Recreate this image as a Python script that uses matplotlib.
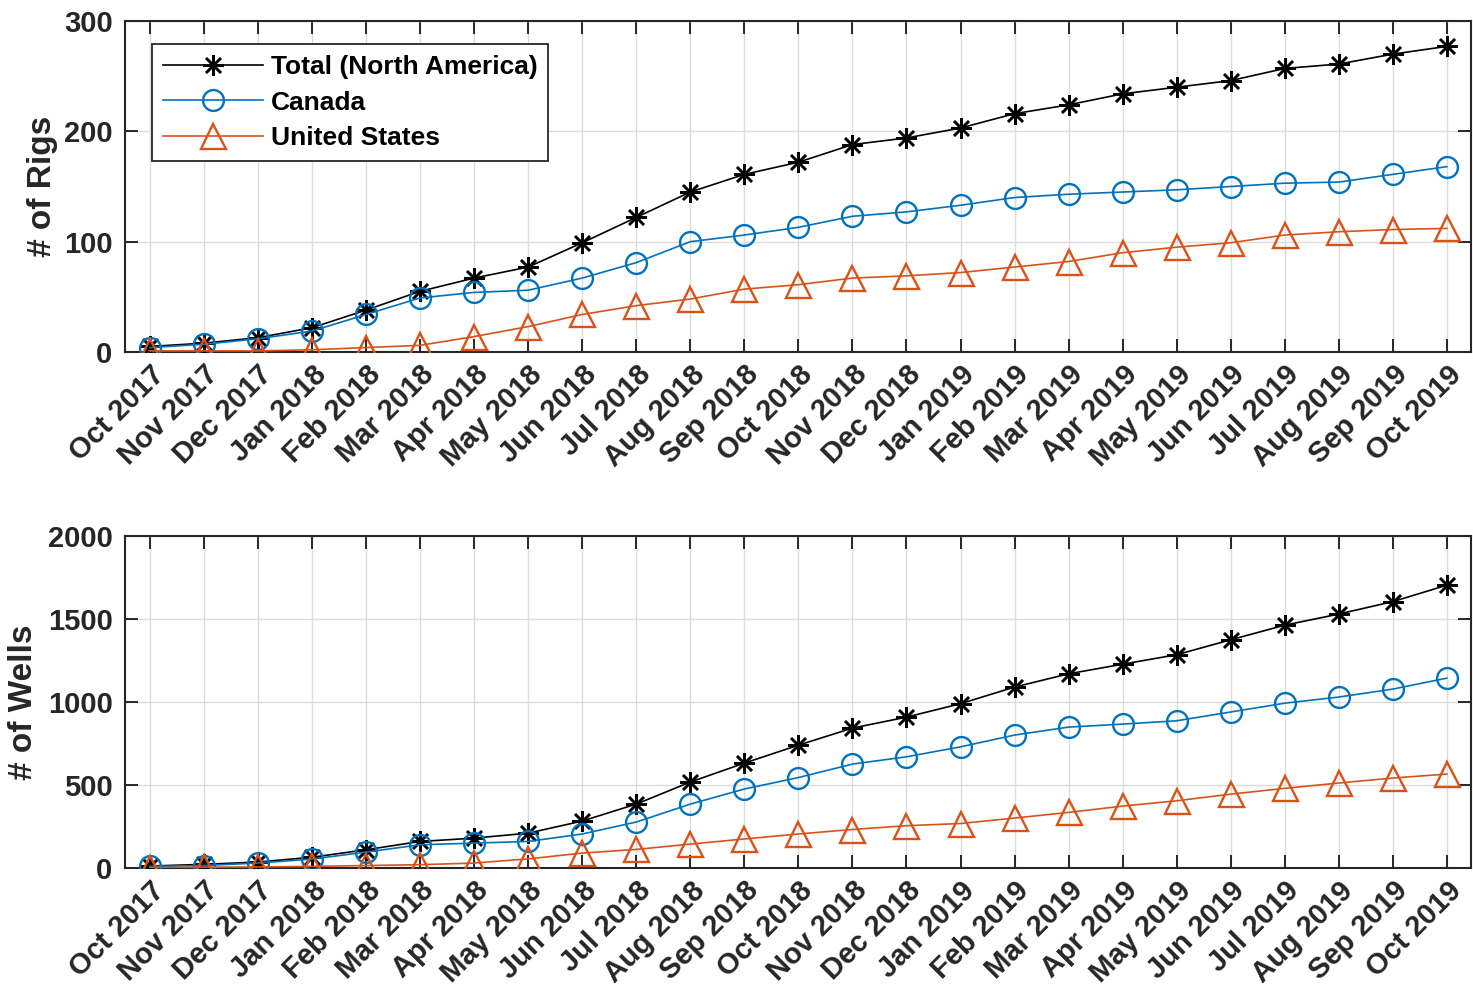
import numpy as np
import matplotlib.pyplot as plt

plt.rcParams["font.family"] = ["Liberation Sans", "DejaVu Sans"]
plt.rcParams["font.weight"] = "bold"

# Monthly counts, Oct 2017 - Oct 2019
months = [
    "Oct 2017", "Nov 2017", "Dec 2017", "Jan 2018", "Feb 2018", "Mar 2018",
    "Apr 2018", "May 2018", "Jun 2018", "Jul 2018", "Aug 2018", "Sep 2018",
    "Oct 2018", "Nov 2018", "Dec 2018", "Jan 2019", "Feb 2019", "Mar 2019",
    "Apr 2019", "May 2019", "Jun 2019", "Jul 2019", "Aug 2019", "Sep 2019",
    "Oct 2019",
]

rigs_total = [5, 8, 13, 22, 38, 55, 67, 77, 99, 122, 145, 161, 172, 188, 194,
              203, 216, 224, 234, 240, 246, 257, 261, 270, 277]
rigs_canada = [4, 7, 12, 19, 34, 49, 54, 56, 67, 81, 100, 106, 113, 123, 127,
               133, 140, 143, 145, 147, 150, 153, 154, 161, 168]
rigs_us = [1, 1, 1, 2, 4, 6, 14, 23, 34, 42, 48, 57, 61, 67, 69,
           72, 77, 82, 90, 95, 99, 106, 109, 111, 112]

wells_total = [12, 22, 36, 65, 110, 160, 180, 210, 283, 385, 518, 632, 740,
               843, 909, 990, 1090, 1170, 1228, 1285, 1375, 1463, 1530, 1605, 1704]
wells_canada = [10, 15, 30, 54, 96, 140, 150, 160, 205, 277, 385, 476, 545,
                626, 670, 730, 801, 849, 867, 887, 940, 993, 1030, 1078, 1144]
wells_us = [3, 5, 6, 10, 15, 20, 30, 55, 90, 112, 144, 175, 205,
            232, 255, 268, 301, 335, 373, 405, 445, 480, 512, 542, 566]

blue = "#0072BD"
orange = "#D95319"
textColor = "#262626"
tickFs = 21
labelFs = 24
legendFs = 19

x = np.arange(len(months))

fig = plt.figure(figsize=(14.73, 9.96), dpi=100)
ax1 = fig.add_axes([0.0849, 0.6466, 0.9135, 0.3323])
ax2 = fig.add_axes([0.0849, 0.1285, 0.9135, 0.3333])


def draw(ax, total, canada, us, ylim, yticks, ylabel, labelx):
    ax.plot(x, total, color="black", lw=1.2, marker=(8, 2, 0), ms=15,
            mew=1.8, label="Total (North America)", zorder=3)
    ax.plot(x, canada, color=blue, lw=1.2, marker="o", ms=15, mew=1.7,
            mfc="none", label="Canada", zorder=3)
    ax.plot(x, us, color=orange, lw=1.2, marker="^", ms=18, mew=1.7,
            mfc="none", label="United States", zorder=3)

    ax.set_xlim(-0.46, 24.44)
    ax.set_ylim(*ylim)
    ax.set_yticks(yticks)
    ax.set_xticks(x)
    ax.set_xticklabels(months, rotation=45, ha="right", va="top",
                       rotation_mode="anchor")
    ax.set_ylabel(ylabel, fontsize=labelFs, fontweight="bold", color=textColor)
    ax.yaxis.set_label_coords(labelx, 0.5)

    ax.grid(True, color="#dcdcdc", lw=1.0)
    ax.set_axisbelow(True)
    ax.tick_params(direction="in", length=9.5, width=1.4, color=textColor,
                   labelsize=tickFs, labelcolor=textColor, top=True,
                   right=True)
    ax.tick_params(axis="y", pad=9)
    ax.tick_params(axis="x", pad=6)
    for lab in ax.get_xticklabels() + ax.get_yticklabels():
        lab.set_fontweight("bold")
    for s in ax.spines.values():
        s.set_color(textColor)
        s.set_linewidth(1.5)


draw(ax1, rigs_total, rigs_canada, rigs_us, (0, 300), [0, 100, 200, 300],
     "# of Rigs", -0.0497)
draw(ax2, wells_total, wells_canada, wells_us, (0, 2000),
     [0, 500, 1000, 1500, 2000], "# of Wells", -0.0638)

leg = ax1.legend(loc="upper left", bbox_to_anchor=(0.02, 0.93),
                 borderaxespad=0, handlelength=3.8, handletextpad=0.3,
                 labelspacing=0.45, borderpad=0.4, fancybox=False,
                 framealpha=1, edgecolor=textColor,
                 prop={"weight": "bold", "size": legendFs})
leg.get_frame().set_linewidth(1.3)
for t in leg.get_texts():
    t.set_color("black")

fig.savefig("out.png", dpi=100)
